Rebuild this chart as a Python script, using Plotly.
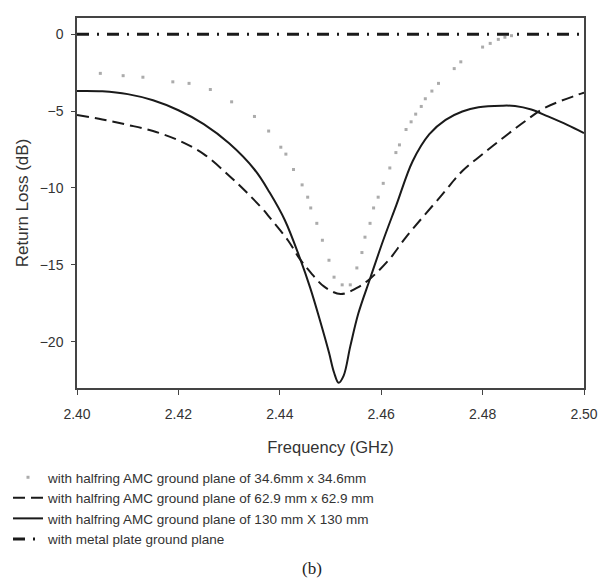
import plotly.graph_objects as go

# ---- data ----
freq_346 = [2.4046, 2.4091, 2.4130, 2.4189, 2.4221, 2.4263, 2.4305, 2.4350, 2.4378, 2.4402,
            2.4412, 2.4427, 2.4444, 2.4455, 2.4461, 2.4473, 2.4484, 2.4497, 2.4507, 2.4523,
            2.4539, 2.4552, 2.4562, 2.4568, 2.4578, 2.4585, 2.4594, 2.4604, 2.4617, 2.4629,
            2.4636, 2.4649, 2.4659, 2.4668, 2.4679, 2.4687, 2.4700, 2.4713, 2.4744, 2.4757,
            2.4800, 2.4815, 2.4831, 2.4844, 2.4857]
rl_346 = [-2.55, -2.7, -2.8, -3.1, -3.2, -3.6, -4.4, -5.35, -6.3, -7.35,
          -7.8, -8.8, -9.8, -10.6, -11.3, -12.3, -13.4, -14.7, -15.8, -16.3,
          -16.3, -15.2, -14.2, -13.2, -12.3, -11.3, -10.6, -9.7, -8.7, -7.7,
          -7.2, -6.2, -5.7, -5.2, -4.7, -4.2, -3.7, -3.2, -2.24, -1.8,
          -0.84, -0.6, -0.34, -0.2, -0.1]

freq_629 = [2.400, 2.405, 2.410, 2.415, 2.420, 2.425, 2.430, 2.4335, 2.4367,
            2.4377, 2.4416, 2.4439, 2.4461, 2.4487, 2.452, 2.4552, 2.4578, 2.4617, 2.4649,
            2.4721, 2.476, 2.4799, 2.4844, 2.4883, 2.4922, 2.4987, 2.500]
rl_629 = [-5.25, -5.55, -5.9, -6.3, -6.9, -7.8, -9.2, -10.3, -11.4,
          -11.8, -13.4, -14.6, -15.5, -16.4, -16.9, -16.5, -15.9, -14.6, -13.2,
          -10.4, -8.9, -7.83, -6.65, -5.68, -4.8, -3.95, -3.8]

freq_130 = [2.400, 2.405, 2.410, 2.415, 2.420, 2.425, 2.430, 2.435, 2.438, 2.441,
            2.444, 2.446, 2.448, 2.4497, 2.4507, 2.4516, 2.4526, 2.4539, 2.4555, 2.4578,
            2.4604, 2.463, 2.4662, 2.4695, 2.4727, 2.476, 2.4792, 2.4838, 2.4864, 2.4896,
            2.4929, 2.4967, 2.500]
rl_130 = [-3.70, -3.72, -3.90, -4.30, -4.95, -5.85, -7.10, -8.80, -10.3, -12.1,
          -14.6, -16.5, -18.7, -20.7, -22.0, -22.67, -22.2, -20.3, -18.15, -15.9,
          -13.4, -11.1, -8.26, -6.5, -5.57, -5.03, -4.75, -4.65, -4.67, -4.9,
          -5.35, -5.9, -6.43]

freq_metal = [2.400, 2.500]
rl_metal = [0.0, 0.0]

names = [
    "with halfring AMC ground plane of 34.6mm x 34.6mm",
    "with halfring AMC ground plane of 62.9 mm x 62.9 mm",
    "with halfring AMC ground plane of 130 mm X 130 mm",
    "with metal plate ground plane",
]

x_ticks = [2.40, 2.42, 2.44, 2.46, 2.48, 2.50]
x_tick_text = ["2.40", "2.42", "2.44", "2.46", "2.48", "2.50"]
y_ticks = [0, -5, -10, -15, -20]

fig = go.Figure()
fig.add_trace(go.Scatter(x=freq_346, y=rl_346, mode="markers", name=names[0],
                         marker=dict(symbol="square", size=3, color="#ababab")))
fig.add_trace(go.Scatter(x=freq_629, y=rl_629, mode="lines", name=names[1],
                         line=dict(color="#1a1a1a", width=2, dash="12px,6px", shape="spline")))
fig.add_trace(go.Scatter(x=freq_130, y=rl_130, mode="lines", name=names[2],
                         line=dict(color="#1a1a1a", width=2, shape="spline")))
fig.add_trace(go.Scatter(x=freq_metal, y=rl_metal, mode="lines", name=names[3],
                         line=dict(color="#1a1a1a", width=3, dash="12px,8px,2px,8px")))

# The page body has an 8px margin, so the figure is sized to end at the window edge.
W, H = 598, 571
font_family = "Liberation Sans, Arial, sans-serif"
fig.update_layout(
    width=W, height=H, autosize=False,
    margin=dict(l=69, r=14, t=8, b=191),
    paper_bgcolor="white", plot_bgcolor="white",
    font=dict(family=font_family, size=14, color="#333"),
    showlegend=True,
    legend=dict(xref="container", yref="container", x=0.0, y=1 - 454 / H,
                xanchor="left", yanchor="top", orientation="h",
                entrywidth=1, entrywidthmode="fraction",
                font=dict(size=13.5, color="#333"), bgcolor="rgba(0,0,0,0)"),
    xaxis=dict(range=[2.40, 2.50], tickvals=x_ticks, ticktext=x_tick_text,
               showgrid=False, zeroline=False, showline=True, linecolor="#444",
               linewidth=1.5, mirror=True, ticks="outside", ticklen=5, tickcolor="#444",
               ticklabelstandoff=8,
               tickfont=dict(size=14, color="#333"),
               title=dict(text="Frequency (GHz)", font=dict(size=16.5, color="#333"), standoff=20)),
    yaxis=dict(range=[-23, 1.05], tickvals=y_ticks,
               showgrid=False, zeroline=False, showline=True, linecolor="#444",
               linewidth=1.5, mirror=True, ticks="outside", ticklen=4, tickcolor="#444",
               ticklabelstandoff=5,
               tickfont=dict(size=14, color="#333"),
               title=dict(text="Return Loss (dB)", font=dict(size=17, color="#333"), standoff=7)),
    annotations=[dict(text="(b)", xref="paper", yref="paper", x=0.464, y=-0.487,
                      showarrow=False, xanchor="center", yanchor="middle",
                      font=dict(family="Liberation Serif, Times New Roman, serif", size=17, color="#222"))],
)

fig.write_html("out.html")
